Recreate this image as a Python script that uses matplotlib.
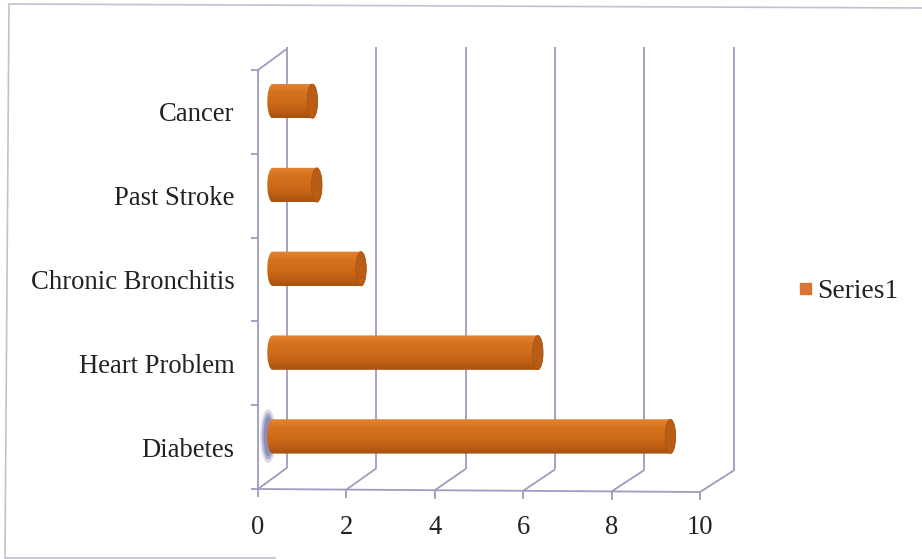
import numpy as np
import matplotlib
matplotlib.use('Agg')
from matplotlib import pyplot as plt
from matplotlib.lines import Line2D
from matplotlib.patches import Ellipse, PathPatch, Rectangle
from matplotlib.path import Path

categories = ['Diabetes', 'Heart Problem', 'Chronic Bronchitis', 'Past Stroke', 'Cancer']
values = [9, 6, 2, 1, 0.9]
x_ticks = [0, 2, 4, 6, 8, 10]
series_name = 'Series1'

LINE = '#9c9cbc'
TEXT = '#222222'
DEPTH_X = 0.66
DEPTH_Y = 0.255
BACK_SCALE = 1.01
SAG = 0.0036   # floor drops slightly towards the right
BAR_H = 0.41
CAP_W = 0.24
LW = 1.3

plt.rcParams['font.family'] = ['Liberation Serif', 'DejaVu Serif']

body_cmap = matplotlib.colors.LinearSegmentedColormap.from_list(
    'body', ['#e28434', '#d6721c', '#d06c18', '#c26014', '#a85210'])


def line(ax, xs, ys):
    ax.plot(xs, ys, color=LINE, lw=LW, clip_on=False, solid_capstyle='butt')


def draw_walls(ax):
    n = len(categories)
    for x in x_ticks:
        back = x * BACK_SCALE + DEPTH_X
        floor_back = DEPTH_Y - SAG * x
        line(ax, [x, back], [-SAG * x, floor_back])
        line(ax, [back, back], [floor_back, n + DEPTH_Y + 0.02])
        # tick under the front floor edge
        line(ax, [x, x], [-SAG * x, -SAG * x - 0.1])
    line(ax, [0, DEPTH_X], [n, n + DEPTH_Y])
    line(ax, [0, x_ticks[-1]], [0, -SAG * x_ticks[-1]])
    line(ax, [0, 0], [0, n])


def rounded_outline(left, right, mid):
    # capsule made of the two end ellipses and the straight sides
    t = np.linspace(np.pi / 2, 3 * np.pi / 2, 30)
    xl = left + CAP_W / 2 * np.cos(t)
    yl = mid + BAR_H / 2 * np.sin(t)
    xr = right - CAP_W / 2 * np.cos(t)
    yr = mid - BAR_H / 2 * np.sin(t)
    return np.r_[xl, xr, xl[:1]], np.r_[yl, yr, yl[:1]]


def draw_cylinder(ax, y, value):
    left = DEPTH_X / 2
    right = left + value
    mid = y + 0.5 + DEPTH_Y / 2
    shade = np.linspace(0, 1, 40).reshape(-1, 1)
    img = ax.imshow(shade, cmap=body_cmap,
                    extent=(left - CAP_W / 2, right + CAP_W / 2, mid - BAR_H / 2, mid + BAR_H / 2),
                    aspect='auto', origin='upper', interpolation='bilinear', zorder=3)
    xs, ys = rounded_outline(left, right, mid)
    clip = PathPatch(Path(np.c_[xs, ys]), transform=ax.transData, fc='none', ec='none')
    ax.add_patch(clip)
    img.set_clip_path(clip)
    ax.add_patch(Ellipse((right, mid), CAP_W, BAR_H, facecolor='#b85c16', edgecolor='#a85410',
                         lw=0.5, zorder=3.1, clip_on=False))


fig = plt.figure(figsize=(9.22, 5.59), dpi=100)
ax = fig.add_axes([258 / 922, 1 - 489 / 559, 442 / 922, 419 / 559])

# outer chart frame, open on the right side
frame_x = np.array([922, 9, 5, 275]) / 922
frame_y = 1 - np.array([8, 4, 558, 558]) / 559
fig.add_artist(Line2D(frame_x, frame_y, color='#c0c0d2', lw=1.2, transform=fig.transFigure))

draw_walls(ax)

# smudge behind the first bar's base
for w, h, a in [(0.36, 0.64, 0.22), (0.28, 0.56, 0.35), (0.2, 0.48, 0.4)]:
    ax.add_patch(Ellipse((0.23, 0.63), w, h, color='#5c5c98', alpha=a, lw=0, zorder=2.5, clip_on=False))

for i, v in enumerate(values):
    draw_cylinder(ax, i, v)

ax.set_xlim(0, 10)
ax.set_ylim(0, len(categories))
ax.set_xticks(x_ticks)
ax.set_yticks(range(len(categories) + 1))
ax.set_yticklabels([])
ax.set_yticks(np.arange(len(categories)) + 0.5, labels=categories, minor=True)
ax.tick_params(axis='y', which='minor', length=0, pad=17, labelsize=19.2, labelcolor=TEXT)
for lab in ax.get_yticklabels(minor=True):
    lab.set_y(lab.get_position()[1] - 0.024)
ax.tick_params(axis='y', which='major', length=5, color=LINE, width=LW)
ax.tick_params(axis='x', length=0, pad=18.5, labelsize=19.2, labelcolor=TEXT)
for side in ax.spines:
    ax.spines[side].set_visible(False)

# legend
fig.patches.append(Rectangle((800 / 922, 1 - 294 / 559), 11 / 922, 11 / 559, color='#dc7435',
                             transform=fig.transFigure))
fig.text(817 / 922, 1 - 291 / 559, series_name, fontsize=19.8, color=TEXT, va='center', ha='left')

fig.savefig('out.png', dpi=100)
